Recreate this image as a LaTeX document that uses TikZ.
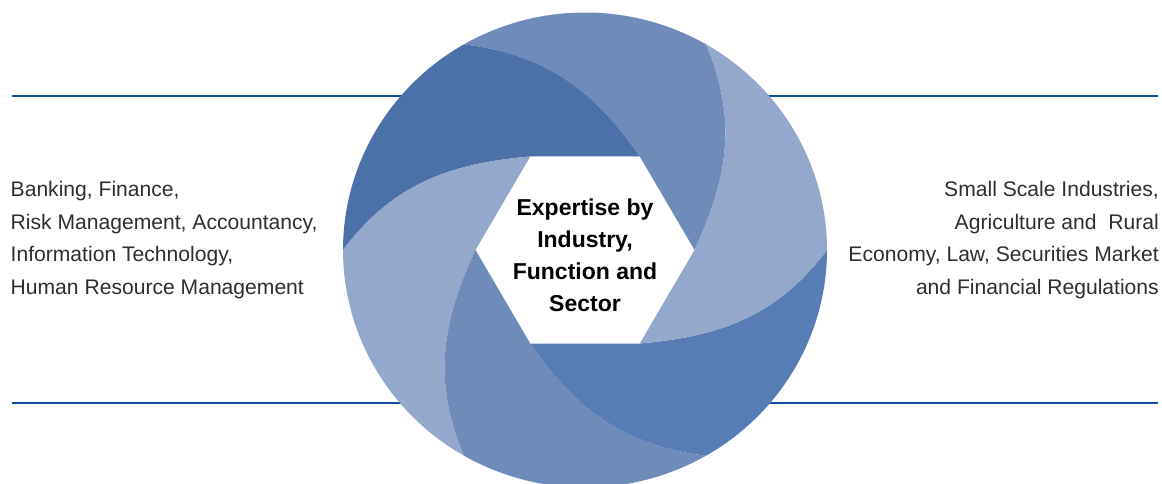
\documentclass[tikz,border=0pt]{standalone}
\usepackage{fontspec}
\setmainfont{Liberation Sans}
\definecolor{ruleblue}{HTML}{0E4F9C}
\definecolor{inkgray}{HTML}{2E2E2E}
\definecolor{bladedark}{HTML}{4C71A8}
\definecolor{bladedeep}{HTML}{587CB4}
\definecolor{blademid}{HTML}{6F8BBA}
\definecolor{bladelight}{HTML}{94A8CB}

\begin{document}
\begin{tikzpicture}[x=1pt, y=1pt,
  rule/.style={draw=ruleblue, line width=2pt},
  sidetext/.style={inner sep=0pt, text=inkgray, font=\fontsize{21.1}{32.5}\selectfont},
  coretext/.style={inner sep=0pt, align=center, text=black, font=\fontsize{23}{32.3}\selectfont\bfseries}]
  \useasboundingbox (0,0) rectangle (1162,483);
  \draw[rule] (12,387.3) -- (1158,387.3);
  \draw[rule] (12,79.7) -- (1158,79.7);
  \begin{scope}[shift={(585,233)}]
    \foreach \a/\col in {0/blademid, 60/bladedark, 120/bladelight, 180/blademid, 240/bladedeep, 300/bladelight}
      \fill[\col] (\a:109.5 and 108) to[out=\a+65, in=\a-67] (\a+60:242 and 237.5)
        arc[start angle=\a+60, end angle=\a+120, x radius=242, y radius=237.5]
        to[out=\a-7, in=\a+125] (\a+60:109.5 and 108) -- cycle;
  \end{scope}
  \node[coretext] (core) at (585,227.7) {Expertise by\\Industry,\\Function and\\Sector};
  \node[sidetext, align=left, anchor=north west] (westlist) at (10.5,301.8)
    {Banking, Finance,\\Risk Management, Accountancy,\\Information Technology,\\Human Resource Management};
  \node[sidetext, align=right, anchor=north east] (eastlist) at (1159,301.8)
    {Small Scale Industries,\\Agriculture and\ \ Rural\\Economy, Law, Securities Market\\and Financial Regulations};
\end{tikzpicture}
\end{document}
